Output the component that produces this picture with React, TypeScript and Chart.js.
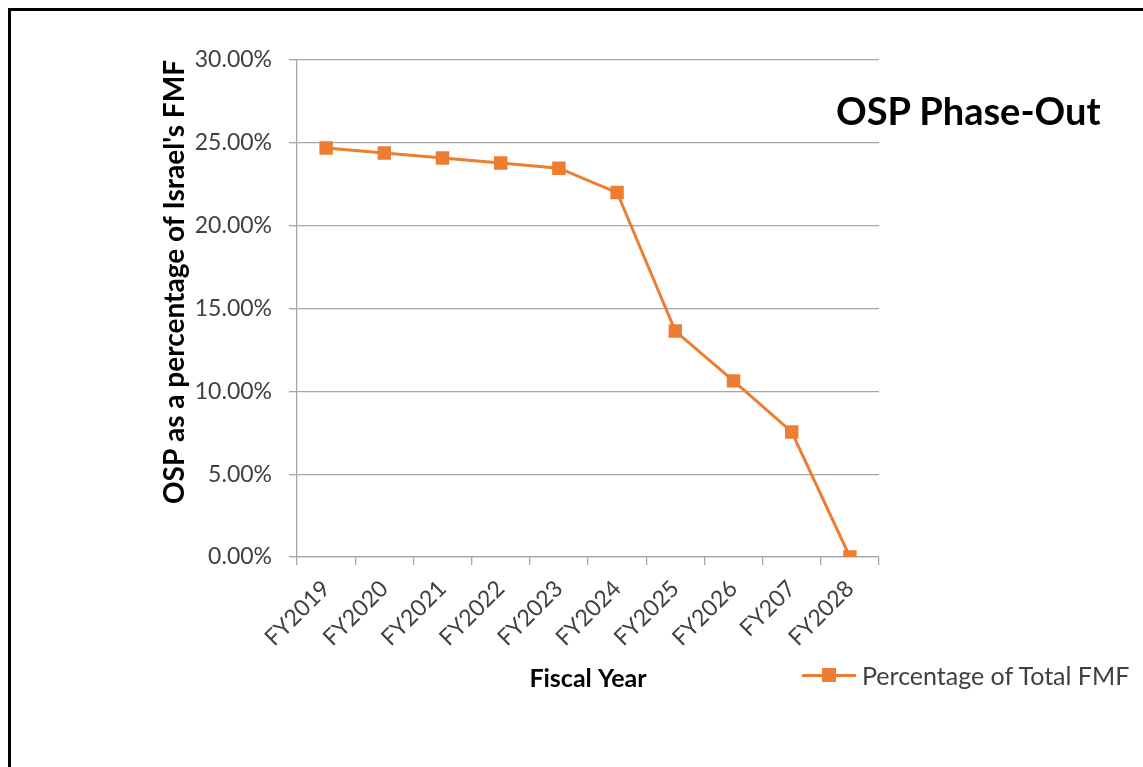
import React, { useEffect, useRef } from "react";
import { Chart, registerables } from "chart.js";

Chart.register(...registerables);

const categories: string[] = [
  "FY2019", "FY2020", "FY2021", "FY2022", "FY2023",
  "FY2024", "FY2025", "FY2026", "FY207", "FY2028",
];
const percentOfTotalFMF: number[] = [
  24.69, 24.39, 24.08, 23.78, 23.47, 22.0, 13.64, 10.63, 7.55, 0.0,
];
const seriesLabel = "Percentage of Total FMF";
const chartTitle = "OSP Phase-Out";
const xAxisTitle = "Fiscal Year";
const yAxisTitle = "OSP as a percentage of Israel's FMF";
const yMin = 0;
const yMax = 30;
const yStep = 5;

const ORANGE = "#ED7D31";
const GRID = "#a6a6a6";
const TICK_TEXT = "#404040";
const FONT = "Lato, 'Open Sans', sans-serif";

export default function App() {
  const canvasRef = useRef<HTMLCanvasElement | null>(null);

  useEffect(() => {
    const canvas = canvasRef.current;
    if (!canvas) return;
    const chart = new Chart(canvas, {
      type: "line",
      data: {
        labels: categories,
        datasets: [
          {
            label: seriesLabel,
            data: percentOfTotalFMF,
            borderColor: ORANGE,
            backgroundColor: ORANGE,
            borderWidth: 3,
            pointStyle: "rect",
            pointRadius: 9.5,
            pointHoverRadius: 9.5,
            pointBorderWidth: 0,
            tension: 0,
          },
        ],
      },
      options: {
        responsive: false,
        animation: false,
        devicePixelRatio: 1,
        layout: { padding: { left: 147, top: 49, right: 264, bottom: 73 } },
        plugins: {
          legend: { display: false },
          title: { display: false },
          tooltip: { enabled: false },
        },
        scales: {
          x: {
            type: "category",
            offset: true,
            grid: {
              display: true,
              drawOnChartArea: false,
              drawTicks: true,
              tickLength: 8,
              color: GRID,
              lineWidth: 1.3,
              offset: true,
            },
            border: { display: true, color: GRID, width: 1.3 },
            ticks: {
              minRotation: 45,
              maxRotation: 45,
              padding: 10,
              color: TICK_TEXT,
              font: { family: FONT, size: 23 },
              autoSkip: false,
            },
            title: {
              display: true,
              text: xAxisTitle,
              color: "#000",
              font: { family: FONT, size: 25, weight: "bold" },
              padding: 0,
            },
            afterFit: (scale: any) => {
              scale.height = 137;
            },
          },
          y: {
            min: yMin,
            max: yMax,
            grid: {
              color: GRID,
              lineWidth: 1.3,
              tickLength: 8,
            },
            border: { display: true, color: GRID, width: 1.3 },
            ticks: {
              stepSize: yStep,
              padding: 17,
              color: TICK_TEXT,
              font: { family: FONT, size: 23 },
              callback: (v: any) => Number(v).toFixed(2) + "%",
            },
            title: {
              display: true,
              text: yAxisTitle,
              align: "end",
              color: "#000",
              font: { family: FONT, size: 28, weight: "bold" },
              padding: 0,
            },
            afterFit: (scale: any) => {
              scale.width = 139;
            },
          },
        },
      },
    });
    return () => chart.destroy();
  }, []);

  return (
    <div
      style={{
        position: "fixed",
        left: 8,
        top: 8,
        width: 1135,
        height: 759,
        boxSizing: "border-box",
        borderLeft: "3px solid #000",
        borderTop: "3px solid #000",
        background: "#fff",
        fontFamily: FONT,
      }}
    >
      <canvas ref={canvasRef} width={1132} height={756} style={{ display: "block" }} />
      <div
        style={{
          position: "absolute",
          left: 825,
          top: 77,
          fontSize: 38,
          fontWeight: "bold",
          color: "#000",
          whiteSpace: "nowrap",
          lineHeight: "44px",
        }}
      >
        {chartTitle}
      </div>
      <div
        style={{
          position: "absolute",
          left: 791,
          top: 650,
          display: "flex",
          alignItems: "center",
          whiteSpace: "nowrap",
          height: 28,
        }}
      >
        <div style={{ position: "relative", width: 54, height: 28, marginRight: 6 }}>
          <div
            style={{
              position: "absolute",
              left: 0,
              top: 12.5,
              width: 54,
              height: 3,
              background: ORANGE,
            }}
          />
          <div
            style={{
              position: "absolute",
              left: 20,
              top: 7,
              width: 14,
              height: 14,
              background: ORANGE,
            }}
          />
        </div>
        <span style={{ fontSize: 25, color: TICK_TEXT, lineHeight: "28px" }}>{seriesLabel}</span>
      </div>
    </div>
  );
}
